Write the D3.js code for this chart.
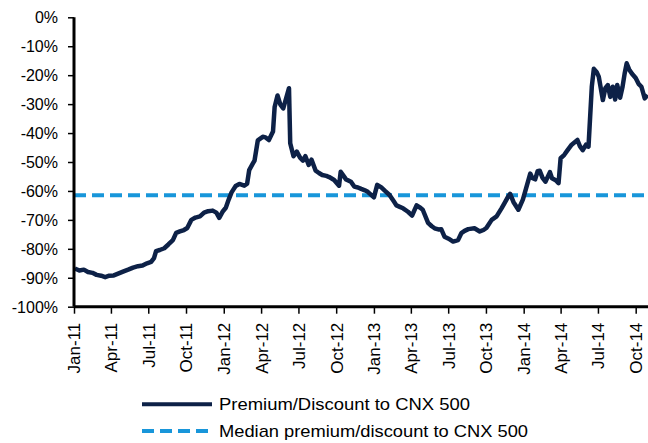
<!DOCTYPE html>
<html>
<head>
<meta charset="utf-8">
<script src="https://cdn.jsdelivr.net/npm/d3@7"></script>
<style>
  body { margin: 0; background: #fff; }
  text { font-family: "Liberation Sans", Arial, sans-serif; fill: #000; }
</style>
</head>
<body>
<div id="chart"></div>
<script>
// series: premium/discount to CNX 500 (%)
var dates = [
  "2011-01-03","2011-01-14","2011-01-25","2011-02-04","2011-02-15","2011-02-25","2011-03-08","2011-03-18",
  "2011-03-28","2011-04-08","2011-04-20","2011-05-02","2011-05-13","2011-05-25","2011-06-06","2011-06-17",
  "2011-06-28","2011-07-08","2011-07-15","2011-07-20","2011-07-29","2011-08-09","2011-08-19","2011-08-30",
  "2011-09-07","2011-09-16","2011-09-26","2011-10-04","2011-10-14","2011-10-24","2011-11-04","2011-11-14",
  "2011-11-24","2011-12-05","2011-12-14","2011-12-21","2011-12-30","2012-01-06","2012-01-13","2012-01-20",
  "2012-01-30","2012-02-08","2012-02-20","2012-02-27","2012-03-03","2012-03-12","2012-03-16","2012-03-24",
  "2012-04-05","2012-04-12","2012-04-20","2012-04-30","2012-05-04","2012-05-11","2012-05-18","2012-05-25",
  "2012-06-01","2012-06-08","2012-06-11","2012-06-19","2012-06-27","2012-07-05","2012-07-12","2012-07-18",
  "2012-07-26","2012-08-02","2012-08-12","2012-08-20","2012-08-28","2012-09-07","2012-09-14","2012-09-26",
  "2012-10-08","2012-10-12","2012-10-19","2012-10-25","2012-11-06","2012-11-14","2012-11-23","2012-12-01",
  "2012-12-10","2012-12-17","2013-01-01","2013-01-09","2013-01-19","2013-01-28","2013-02-08","2013-02-18",
  "2013-02-25","2013-03-05","2013-03-13","2013-03-25","2013-04-04","2013-04-15","2013-04-24","2013-04-30",
  "2013-05-13","2013-05-22","2013-05-29","2013-06-07","2013-06-14","2013-06-22","2013-07-02","2013-07-13",
  "2013-07-25","2013-08-02","2013-08-10","2013-08-19","2013-09-03","2013-09-16","2013-09-25","2013-10-02",
  "2013-10-08","2013-10-15","2013-10-27","2013-11-08","2013-11-16","2013-11-24","2013-11-29","2013-12-07",
  "2013-12-19","2013-12-30","2014-01-07","2014-01-17","2014-01-22","2014-01-29","2014-02-04","2014-02-09",
  "2014-02-16","2014-02-23","2014-03-06","2014-03-11","2014-03-20","2014-03-27","2014-04-01","2014-04-10",
  "2014-04-18","2014-04-28","2014-05-12","2014-05-18","2014-05-25","2014-06-02","2014-06-08","2014-06-12",
  "2014-06-16","2014-06-21","2014-06-28","2014-07-03","2014-07-13","2014-07-19","2014-07-25","2014-07-31",
  "2014-08-06","2014-08-12","2014-08-17","2014-08-24","2014-08-30","2014-09-04","2014-09-09","2014-09-15",
  "2014-09-22","2014-10-01","2014-10-08","2014-10-15","2014-10-23","2014-10-30"
];
var premium = [
  -86.8,-87.5,-87.2,-88.0,-88.3,-89.0,-89.3,-89.8,
  -89.3,-89.2,-88.5,-87.8,-87.2,-86.5,-86.0,-85.8,
  -85.0,-84.5,-83.2,-80.8,-80.4,-79.8,-78.5,-77.0,
  -74.5,-74.0,-73.5,-72.8,-70.0,-69.2,-68.8,-67.5,
  -67.0,-66.8,-67.5,-69.3,-67.0,-65.8,-63.0,-60.5,
  -58.3,-57.6,-58.2,-57.5,-52.8,-50.5,-49.5,-42.5,
  -41.3,-41.5,-42.4,-39.5,-31.0,-27.0,-30.2,-31.5,
  -28.0,-24.5,-43.5,-48.0,-46.4,-48.5,-49.5,-48.0,
  -51.0,-49.2,-53.0,-53.8,-54.5,-54.8,-55.2,-56.2,
  -58.2,-53.4,-54.8,-56.0,-56.8,-58.5,-58.8,-59.3,
  -59.8,-60.3,-62.2,-57.9,-58.8,-60.0,-61.4,-63.5,
  -65.0,-65.5,-66.0,-67.2,-68.5,-65.0,-65.8,-66.5,
  -71.0,-72.2,-72.9,-73.3,-73.2,-75.8,-76.5,-77.5,
  -77.0,-74.6,-73.8,-73.2,-72.9,-74.0,-73.5,-72.8,
  -71.5,-70.0,-68.8,-66.0,-64.0,-62.0,-61.0,-63.8,
  -66.5,-63.0,-59.0,-54.0,-55.5,-56.0,-53.2,-53.0,
  -55.5,-56.8,-53.5,-55.6,-56.3,-57.3,-48.7,-47.5,
  -45.9,-44.0,-42.4,-44.5,-45.9,-44.0,-44.7,-34.3,
  -24.0,-17.8,-19.0,-20.5,-28.6,-24.5,-23.4,-27.5,
  -24.0,-28.4,-23.4,-27.8,-24.0,-19.5,-15.9,-18.0,
  -19.5,-21.0,-23.0,-24.0,-28.0,-26.8
];
var median = -61.5;

var yTicks = [0, -10, -20, -30, -40, -50, -60, -70, -80, -90, -100];
var xTicks = ["2011-01-01","2011-04-01","2011-07-01","2011-10-01","2012-01-01","2012-04-01","2012-07-01","2012-10-01",
              "2013-01-01","2013-04-01","2013-07-01","2013-10-01","2014-01-01","2014-04-01","2014-07-01","2014-10-01"];
var xStart = "2011-01-01", xEnd = "2014-10-31";

var seriesNames = ["Premium/Discount to CNX 500", "Median premium/discount to CNX 500"];
var colors = ["#0d2147", "#1896da"];

var width = 648, height = 443;
var margin = {top: 17.3, right: 0, bottom: 136.3, left: 74};

var parse = d3.timeParse("%Y-%m-%d");
var fmt = d3.timeFormat("%b-%y");

var svg = d3.select("#chart").append("svg")
    .attr("width", width)
    .attr("height", height);

var x = d3.scaleTime()
    .domain([parse(xStart), parse(xEnd)])
    .range([margin.left, width - margin.right]);

var y = d3.scaleLinear()
    .domain([-100, 0])
    .range([height - margin.bottom, margin.top]);

var data = dates.map(function (d, i) { return {date: parse(d), value: premium[i]}; });

// median line (dashed)
svg.append("line")
    .attr("x1", x.range()[0])
    .attr("x2", x.range()[1])
    .attr("y1", y(median))
    .attr("y2", y(median))
    .attr("stroke", colors[1])
    .attr("stroke-width", 4)
    .attr("stroke-dasharray", "12,6");

// premium/discount line
svg.append("path")
    .datum(data)
    .attr("fill", "none")
    .attr("stroke", colors[0])
    .attr("stroke-width", 4.5)
    .attr("stroke-linejoin", "round")
    .attr("d", d3.line()
        .x(function (d) { return x(d.date); })
        .y(function (d) { return y(d.value); }));

// y axis
var yAxis = svg.append("g")
    .attr("transform", "translate(" + margin.left + ",0)")
    .call(d3.axisLeft(y).tickValues(yTicks).tickSize(6).tickPadding(10)
        .tickFormat(function (d) { return d + "%"; }));
yAxis.select(".domain").attr("stroke-width", 3).attr("d", "M0," + y(0) + "V" + y(-100));
yAxis.selectAll(".tick line").attr("stroke-width", 1.5);
yAxis.selectAll(".tick text").style("font-size", "16px").attr("dy", "0.35em");

// x axis
var xAxis = svg.append("g")
    .attr("transform", "translate(0," + y(-100) + ")")
    .call(d3.axisBottom(x).tickValues(xTicks.map(parse)).tickSize(7).tickFormat(fmt));
xAxis.select(".domain").attr("stroke-width", 3).attr("d", "M" + x.range()[0] + ",0H" + x.range()[1]);
xAxis.selectAll(".tick line").attr("stroke-width", 1.5);
xAxis.selectAll(".tick text")
    .style("font-size", "17px")
    .attr("text-anchor", "end")
    .attr("transform", "rotate(-90)")
    .attr("x", -16)
    .attr("y", 0)
    .attr("dy", "0.35em");

// legend
var legendWidths = [251, 309];
var legend = svg.append("g").attr("class", "legend");
seriesNames.forEach(function (name, i) {
    var ly = 404.3 + i * 26.7;
    legend.append("line")
        .attr("x1", 142).attr("x2", 212)
        .attr("y1", ly).attr("y2", ly)
        .attr("stroke", colors[i])
        .attr("stroke-width", 4)
        .attr("stroke-dasharray", i === 0 ? null : "12,6");
    legend.append("text")
        .attr("x", 219)
        .attr("y", ly)
        .attr("dy", "0.35em")
        .style("font-size", "17px")
        .attr("textLength", legendWidths[i])
        .attr("lengthAdjust", "spacingAndGlyphs")
        .text(name);
});
</script>
</body>
</html>
